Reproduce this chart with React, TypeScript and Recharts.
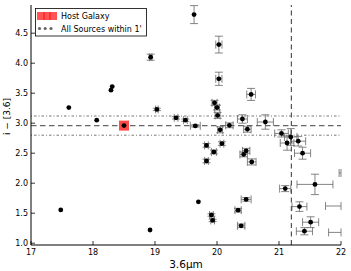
import React from 'react';
import { ScatterChart, Scatter, XAxis, YAxis, ErrorBar, ReferenceLine, Customized } from 'recharts';

// Source magnitudes at 3.6um (x) and colour i - [3.6] (y), with errors
const xVals = [17.48, 17.61, 18.06, 18.29, 18.31, 18.5, 18.92, 18.93, 19.03, 19.34, 19.49, 19.63, 19.65, 19.7, 19.83, 19.83, 19.91, 19.93, 19.95, 19.96, 20.0, 20.01, 20.03, 20.03, 20.05, 20.08, 20.2, 20.34, 20.39, 20.41, 20.43, 20.47, 20.47, 20.49, 20.55, 20.56, 20.78, 21.04, 21.1, 21.13, 21.19, 21.31, 21.33, 21.38, 21.41, 21.51, 21.58, 22.2, 22.2, 22.1];
const yVals = [1.555, 3.26, 3.05, 3.55, 3.61, 2.96, 1.22, 4.1, 3.23, 3.09, 3.05, 4.81, 2.955, 1.69, 2.63, 2.37, 1.47, 1.38, 2.52, 3.34, 3.26, 3.13, 4.31, 3.74, 2.89, 2.66, 2.965, 1.55, 1.29, 3.07, 2.48, 2.54, 1.73, 2.9, 3.48, 2.355, 3.02, 2.83, 1.91, 2.67, 2.77, 2.7, 1.61, 2.5, 1.2, 1.35, 1.98, 1.62, 1.18, 2.17];
const xErrs = [0, 0, 0, 0, 0, 0, 0, 0.02, 0.02, 0.03, 0.03, 0, 0.08, 0, 0.03, 0.03, 0.03, 0.03, 0.04, 0.04, 0.04, 0.04, 0.05, 0.05, 0.04, 0.03, 0.06, 0.05, 0.06, 0.08, 0.06, 0.06, 0.08, 0.06, 0.07, 0.07, 0.13, 0.11, 0.09, 0.11, 0.1, 0.12, 0.12, 0.13, 0.13, 0.13, 0.29, 0.45, 0.4, 0.13];
const yErrs = [0, 0, 0, 0, 0, 0, 0, 0.05, 0.02, 0.02, 0.02, 0.15, 0.02, 0, 0.03, 0.03, 0.02, 0.02, 0.03, 0.04, 0.04, 0.05, 0.14, 0.11, 0.05, 0.03, 0.04, 0.03, 0.03, 0.07, 0.04, 0.04, 0.03, 0.05, 0.1, 0.05, 0.12, 0.06, 0.05, 0.12, 0.14, 0.08, 0.08, 0.1, 0.06, 0.09, 0.17, 0.1, 0.05, 0.05];

const hostX = [18.5];
const hostY = [2.96];

const xTicks = [17, 18, 19, 20, 21, 22];
const yTicks = [1.0, 1.5, 2.0, 2.5, 3.0, 3.5, 4.0, 4.5];
const yTickLabels = ['1.0', '1.5', '2.0', '2.5', '3.0', '3.5', '4.0', '4.5'];

const meanColour = [2.96];
const colourBand = [3.12, 2.8];
const magLimit = [21.2];

const X_MAX = xTicks[xTicks.length - 1];

const allData = xVals.map((x, i) => ({ x, y: yVals[i], xe: xErrs[i], ye: yErrs[i] }));
const data = allData.filter((d) => d.x <= X_MAX);
// sources beyond the right edge: only the visible part of their x error bars shows
const offData = allData
  .filter((d) => d.x > X_MAX)
  .map((d) => ({ ...d, xr: [d.xe, X_MAX - d.x] }));
const hostData = hostX.map((x, i) => ({ x, y: hostY[i] }));

const FONT = 'DejaVu Sans';

const BottomTick = (p: any) => (
  <g>
    <line x1={p.x} x2={p.x} y1={p.y} y2={p.y - 4} stroke="#000" strokeWidth={0.8} />
    <text x={p.x} y={p.y + 10} textAnchor="middle" fontSize={8} fontFamily={FONT} fill="#000">
      {p.payload.value}
    </text>
  </g>
);
const TopTick = (p: any) => (
  <line x1={p.x} x2={p.x} y1={p.y} y2={p.y + 4} stroke="#000" strokeWidth={0.8} />
);
const LeftTick = (p: any) => {
  const idx = yTicks.indexOf(p.payload.value);
  return (
    <g>
      <line x1={p.x} x2={p.x + 4} y1={p.y} y2={p.y} stroke="#000" strokeWidth={0.8} />
      <text x={p.x - 3} y={p.y + 3} textAnchor="end" fontSize={8} fontFamily={FONT} fill="#000">
        {idx >= 0 ? yTickLabels[idx] : p.payload.value}
      </text>
    </g>
  );
};
const RightTick = (p: any) => (
  <line x1={p.x} x2={p.x - 4} y1={p.y} y2={p.y} stroke="#000" strokeWidth={0.8} />
);

const Dot = (p: any) => <circle cx={p.cx} cy={p.cy} r={2.4} fill="#000" />;
const NoMark = () => <g />;
const HostSquare = (p: any) => (
  <rect x={p.cx - 5} y={p.cy - 5} width={10} height={10} fill="#ff2a2a" fillOpacity={0.85} />
);

const Overlay = () => (
  <g fontFamily={FONT}>
    <text transform="rotate(-90)" x={-116.5} y={10} textAnchor="middle" fontSize={9} fill="#000">
      i − [3.6]
    </text>
    <text x={186} y={268} textAnchor="middle" fontSize={10.5} fill="#000">
      3.6μm
    </text>
    <rect x={35.5} y={8.5} width={111} height={27.5} fill="#fff" stroke="#000" strokeWidth={0.8} />
    <rect x={37} y={12} width={8} height={8} fill="#ff2a2a" fillOpacity={0.8} />
    <rect x={43} y={12} width={8} height={8} fill="#ff2a2a" fillOpacity={0.8} />
    <rect x={49} y={12} width={8} height={8} fill="#ff2a2a" fillOpacity={0.8} />
    <text x={61} y={19} fontSize={8} fill="#000">Host Galaxy</text>
    <circle cx={39.5} cy={28.5} r={1.6} fill="#666" />
    <circle cx={45.2} cy={28.5} r={1.6} fill="#666" />
    <circle cx={51} cy={28.5} r={1.6} fill="#666" />
    <text x={61} y={31.5} fontSize={8} fill="#000">All Sources within 1'</text>
  </g>
);

export default function App() {
  return (
    <div style={{ position: 'absolute', left: 0, top: 0, width: 351, height: 271, background: '#fff' }}>
      <ScatterChart width={351} height={271} margin={{ top: 5, right: 10, bottom: 0, left: 0 }}>
        <XAxis
          xAxisId="b"
          type="number"
          dataKey="x"
          domain={[17, 22]}
          ticks={xTicks}
          allowDataOverflow
          height={26}
          tickLine={false}
          tickSize={0}
          tickMargin={0}
          tick={<BottomTick />}
          axisLine={{ stroke: '#000', strokeWidth: 1 }}
        />
        <XAxis
          xAxisId="t"
          orientation="top"
          type="number"
          dataKey="x"
          domain={[17, 22]}
          ticks={xTicks}
          allowDataOverflow
          height={0}
          tickLine={false}
          tickSize={0}
          tickMargin={0}
          tick={<TopTick />}
          axisLine={{ stroke: '#000', strokeWidth: 1 }}
        />
        <YAxis
          yAxisId="l"
          type="number"
          dataKey="y"
          domain={[0.97, 4.97]}
          ticks={yTicks}
          allowDataOverflow
          width={31}
          tickLine={false}
          tickSize={0}
          tickMargin={0}
          tick={<LeftTick />}
          axisLine={{ stroke: '#000', strokeWidth: 1 }}
        />
        <YAxis
          yAxisId="r"
          orientation="right"
          type="number"
          dataKey="y"
          domain={[0.97, 4.97]}
          ticks={yTicks}
          allowDataOverflow
          width={0}
          tickLine={false}
          tickSize={0}
          tickMargin={0}
          tick={<RightTick />}
          axisLine={{ stroke: '#000', strokeWidth: 1 }}
        />
        <Scatter
          xAxisId="b"
          yAxisId="l"
          data={hostData}
          dataKey="y"
          shape={HostSquare}
          isAnimationActive={false}
        />
        {colourBand.map((v) => (
          <ReferenceLine
            key={'band' + v}
            xAxisId="b"
            yAxisId="l"
            y={v}
            stroke="#777"
            strokeWidth={1}
            strokeDasharray="1 2 2.5 2"
          />
        ))}
        {meanColour.map((v) => (
          <ReferenceLine
            key={'mean' + v}
            xAxisId="b"
            yAxisId="l"
            y={v}
            stroke="#666"
            strokeWidth={1.3}
            strokeDasharray="5.5 3.5"
          />
        ))}
        {magLimit.map((v) => (
          <ReferenceLine
            key={'lim' + v}
            xAxisId="b"
            yAxisId="l"
            x={v}
            stroke="#555"
            strokeWidth={1.2}
            strokeDasharray="5 3.5"
          />
        ))}
        <Scatter
          xAxisId="b"
          yAxisId="l"
          data={data}
          dataKey="y"
          shape={Dot}
          isAnimationActive={false}
        >
          <ErrorBar dataKey="xe" direction="x" stroke="#666" strokeWidth={0.8} width={4} isAnimationActive={false} />
          <ErrorBar dataKey="ye" direction="y" stroke="#666" strokeWidth={0.8} width={4} isAnimationActive={false} />
        </Scatter>
        <Scatter
          xAxisId="b"
          yAxisId="l"
          data={offData}
          dataKey="y"
          shape={NoMark}
          isAnimationActive={false}
        >
          <ErrorBar dataKey="xr" direction="x" stroke="#666" strokeWidth={0.8} width={4} isAnimationActive={false} />
        </Scatter>
        <Customized component={Overlay} />
      </ScatterChart>
    </div>
  );
}
